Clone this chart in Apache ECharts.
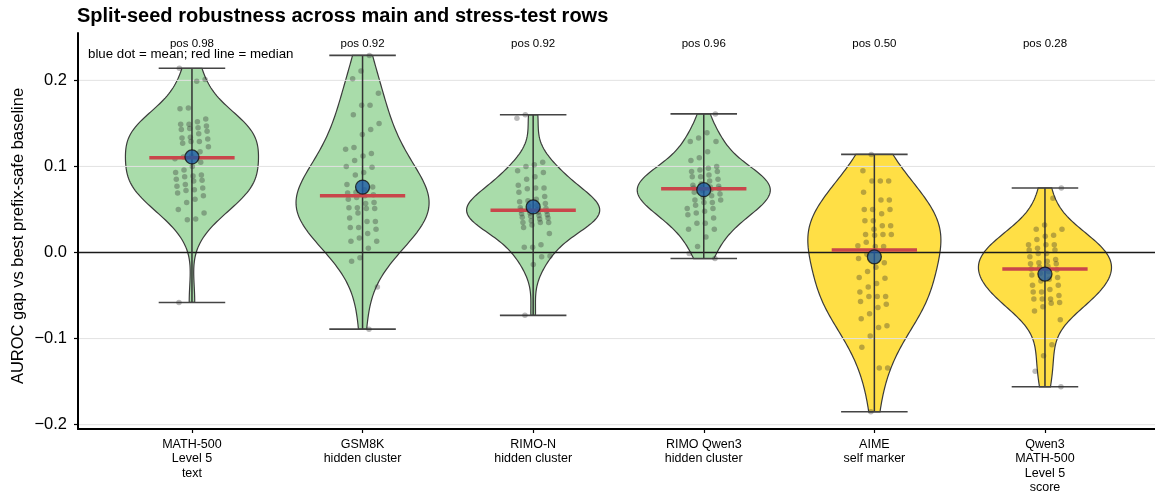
<!DOCTYPE html>
<html>
<head>
<meta charset="utf-8">
<title>Split-seed robustness</title>
<script src="https://cdn.jsdelivr.net/npm/echarts@6/dist/echarts.min.js"></script>
<style>
  html, body { margin: 0; padding: 0; background: #ffffff; }
  #chart { width: 1155px; height: 495px; }
</style>
</head>
<body>
<div id="chart"></div>
<script>
// ---- data ---------------------------------------------------------------
const categories = [
  'MATH-500\nLevel 5\ntext',
  'GSM8K\nhidden cluster',
  'RIMO-N\nhidden cluster',
  'RIMO Qwen3\nhidden cluster',
  'AIME\nself marker',
  'Qwen3\nMATH-500\nLevel 5\nscore'
];
const rowKind = ['main', 'main', 'main', 'main', 'stress', 'stress'];
const positiveShare = [0.98, 0.92, 0.92, 0.96, 0.50, 0.28];
const seedMeans = [0.111, 0.076, 0.053, 0.073, -0.005, -0.025];
const seedMedians = [0.110, 0.066, 0.049, 0.074, 0.003, -0.019];
const yTicks = [-0.2, -0.1, 0.0, 0.1, 0.2];

// AUROC gap per split seed (50 seeds per row)
const math500Level5 = [
  0.214, 0.201, 0.199, 0.168, 0.167, 0.155, 0.152, 0.149, 0.149, 0.147,
  0.145, 0.144, 0.143, 0.141, 0.138, 0.134, 0.133, 0.132, 0.129, 0.129,
  0.127, 0.123, 0.117, 0.112, 0.111, 0.109, 0.105, 0.100, 0.096, 0.093,
  0.090, 0.089, 0.088, 0.085, 0.084, 0.083, 0.079, 0.077, 0.075, 0.073,
  0.072, 0.069, 0.066, 0.062, 0.058, 0.050, 0.046, 0.039, 0.038, -0.058
];
const gsm8kHidden = [
  0.229, 0.211, 0.202, 0.185, 0.171, 0.171, 0.160, 0.150, 0.143, 0.137,
  0.122, 0.120, 0.115, 0.112, 0.107, 0.100, 0.099, 0.093, 0.090, 0.079,
  0.076, 0.073, 0.070, 0.069, 0.067, 0.066, 0.064, 0.062, 0.058, 0.057,
  0.052, 0.052, 0.051, 0.051, 0.046, 0.040, 0.036, 0.036, 0.029, 0.029,
  0.027, 0.022, 0.017, 0.013, 0.013, 0.005, -0.006, -0.010, -0.040, -0.089
];
const rimoNHidden = [
  0.160, 0.156, 0.105, 0.102, 0.100, 0.095, 0.093, 0.088, 0.085, 0.078,
  0.075, 0.075, 0.074, 0.070, 0.065, 0.062, 0.060, 0.059, 0.057, 0.055,
  0.054, 0.052, 0.051, 0.050, 0.049, 0.049, 0.048, 0.047, 0.046, 0.045,
  0.044, 0.043, 0.042, 0.041, 0.040, 0.039, 0.037, 0.035, 0.035, 0.035,
  0.032, 0.029, 0.022, 0.009, 0.006, 0.006, -0.004, -0.005, -0.014, -0.073
];
const rimoQwen3Hidden = [
  0.161, 0.139, 0.133, 0.129, 0.129, 0.117, 0.110, 0.107, 0.100, 0.098,
  0.096, 0.094, 0.094, 0.090, 0.088, 0.088, 0.085, 0.083, 0.080, 0.078,
  0.077, 0.076, 0.075, 0.075, 0.074, 0.073, 0.072, 0.070, 0.068, 0.066,
  0.064, 0.061, 0.061, 0.058, 0.058, 0.055, 0.051, 0.051, 0.048, 0.046,
  0.044, 0.040, 0.034, 0.034, 0.027, 0.027, 0.018, 0.007, -0.001, -0.007
];
const aimeSelfMarker = [
  0.114, 0.095, 0.083, 0.083, 0.083, 0.070, 0.061, 0.061, 0.050, 0.050,
  0.050, 0.045, 0.037, 0.037, 0.031, 0.031, 0.027, 0.021, 0.021, 0.021,
  0.020, 0.012, 0.008, 0.007, 0.007, -0.002, -0.007, -0.012, -0.017, -0.022,
  -0.029, -0.030, -0.036, -0.040, -0.046, -0.051, -0.051, -0.051, -0.057, -0.060,
  -0.064, -0.071, -0.077, -0.085, -0.087, -0.097, -0.110, -0.134, -0.134, -0.185
];
const qwen3Math500Score = [
  0.075, 0.063, 0.032, 0.027, 0.027, 0.020, 0.019, 0.015, 0.009, 0.009,
  0.009, 0.005, 0.003, 0.003, -0.001, -0.001, -0.005, -0.008, -0.010, -0.012,
  -0.013, -0.013, -0.016, -0.017, -0.019, -0.020, -0.022, -0.024, -0.026, -0.029,
  -0.031, -0.033, -0.038, -0.038, -0.043, -0.046, -0.046, -0.050, -0.054, -0.054,
  -0.054, -0.058, -0.059, -0.063, -0.068, -0.078, -0.107, -0.120, -0.138, -0.156
];
const seedGaps = [math500Level5, gsm8kHidden, rimoNHidden, rimoQwen3Hidden, aimeSelfMarker, qwen3Math500Score];

// ---- layout & style -----------------------------------------------------
const FONT = "'Liberation Sans', Arial, Helvetica, sans-serif";
const X_MIN = -0.668, X_MAX = 5.645;
const Y_MIN = -0.205, Y_MAX = 0.255;
const VIOLIN_HALF = 0.39;     // half of the violin body width (category units)
const CAP_HALF = 0.195;       // whisker cap half width
const MEDIAN_HALF = 0.25;     // median bar half width
const BW_SCALE = 1.2;         // smoothing relative to Scott's rule
const FILL = { main: '#a9dcaa', stress: '#ffdf45' };

// Gaussian KDE, evaluated between the extremes of each row
function kdeProfile(values, nPts) {
  const n = values.length;
  const mu = values.reduce((a, b) => a + b, 0) / n;
  const sd = Math.sqrt(values.reduce((a, b) => a + (b - mu) * (b - mu), 0) / (n - 1));
  const bw = BW_SCALE * sd * Math.pow(n, -0.2);
  const lo = Math.min(...values), hi = Math.max(...values);
  const out = [];
  for (let k = 0; k < nPts; k++) {
    const y = lo + (hi - lo) * k / (nPts - 1);
    let d = 0;
    for (const v of values) { const z = (y - v) / bw; d += Math.exp(-0.5 * z * z); }
    out.push([y, d]);
  }
  const dmax = Math.max(...out.map(p => p[1]));
  return out.map(p => [p[0], p[1] / dmax]);
}
const profiles = seedGaps.map(v => kdeProfile(v, 120));
const extremes = seedGaps.map(v => [Math.min(...v), Math.max(...v)]);

// deterministic horizontal spread for the seed dots
function spread(i, k) {
  const f = (k * 0.7548776662 + i * 0.5698402910 + 0.13) % 1;
  return (f - 0.5) * 0.2;
}
const seedDots = [];
seedGaps.forEach((vals, i) => vals.forEach((v, k) => seedDots.push([i + spread(i, k), v])));

const catIdx = categories.map((_, i) => [i]);

const chart = echarts.init(document.getElementById('chart'), null, { renderer: 'canvas' });

chart.setOption({
  animation: false,
  backgroundColor: '#ffffff',
  title: {
    text: 'Split-seed robustness across main and stress-test rows',
    left: 77, top: 6, padding: 0,
    textStyle: { fontFamily: FONT, fontSize: 20, fontWeight: 'bold', color: '#000' }
  },
  grid: { left: 78, right: 0, top: 33, bottom: 65, containLabel: false },
  xAxis: {
    type: 'value', min: X_MIN, max: X_MAX,
    splitLine: { show: false },
    axisLine: { show: true, onZero: false, lineStyle: { color: '#000', width: 2 } },
    axisTick: { show: true, customValues: [0, 1, 2, 3, 4, 5], length: 4, lineStyle: { color: '#000', width: 1.2 } },
    axisLabel: {
      customValues: [0, 1, 2, 3, 4, 5],
      formatter: v => categories[Math.round(v)] || '',
      fontFamily: FONT, fontSize: 12.5, lineHeight: 14.5, color: '#000', margin: 8
    }
  },
  yAxis: {
    type: 'value', min: Y_MIN, max: Y_MAX,
    splitLine: { show: false },
    axisLine: { show: true, onZero: false, lineStyle: { color: '#000', width: 2 } },
    axisTick: { show: true, customValues: yTicks, length: 4, lineStyle: { color: '#000', width: 1.2 } },
    axisLabel: {
      customValues: yTicks,
      formatter: v => (v < -1e-9 ? '\u2212' + Math.abs(v).toFixed(1) : Math.abs(v).toFixed(1)),
      fontFamily: FONT, fontSize: 16.5, color: '#000', margin: 11
    }
  },
  graphic: [
    {
      type: 'text', x: 18, y: 236, rotation: Math.PI / 2,
      style: {
        text: 'AUROC gap vs best prefix-safe baseline',
        font: '16.5px ' + FONT, fill: '#000', align: 'center', verticalAlign: 'middle'
      }
    },
    {
      type: 'text', x: 88, y: 54,
      style: {
        text: 'blue dot = mean; red line = median',
        font: '13.3px ' + FONT, fill: '#000', align: 'left', verticalAlign: 'middle'
      },
      z: 100
    }
  ],
  series: [
    // violin bodies
    {
      type: 'custom', data: catIdx, z: 2, silent: true,
      renderItem(params, api) {
        const i = api.value(0);
        const prof = profiles[i];
        const right = prof.map(([y, w]) => api.coord([i + w * VIOLIN_HALF, y]));
        const left = prof.slice().reverse().map(([y, w]) => api.coord([i - w * VIOLIN_HALF, y]));
        return {
          type: 'polygon',
          shape: { points: right.concat(left) },
          style: { fill: FILL[rowKind[i]], stroke: '#3b3b3b', lineWidth: 1.2 }
        };
      }
    },
    // horizontal reference lines at the ticks, zero line in black
    {
      type: 'custom', data: yTicks.map(v => [v]), z: 3, silent: true,
      renderItem(params, api) {
        const v = api.value(0);
        const a = api.coord([X_MIN, v]);
        const b = api.coord([X_MAX, v]);
        const isZero = Math.abs(v) < 1e-9;
        return {
          type: 'line',
          shape: { x1: a[0] + 1, y1: a[1], x2: b[0], y2: b[1] },
          style: { stroke: isZero ? '#1a1a1a' : '#e2e2e2', lineWidth: isZero ? 1.6 : 1 }
        };
      }
    },
    // min-max whisker with caps
    {
      type: 'custom', data: catIdx, z: 4, silent: true,
      renderItem(params, api) {
        const i = api.value(0);
        const [lo, hi] = extremes[i];
        const top = api.coord([i, hi]), bot = api.coord([i, lo]);
        const tl = api.coord([i - CAP_HALF, hi]), tr = api.coord([i + CAP_HALF, hi]);
        const bl = api.coord([i - CAP_HALF, lo]), br = api.coord([i + CAP_HALF, lo]);
        const st = { stroke: '#333333', lineWidth: 1.5 };
        return {
          type: 'group',
          children: [
            { type: 'line', shape: { x1: top[0], y1: top[1], x2: bot[0], y2: bot[1] }, style: st },
            { type: 'line', shape: { x1: tl[0], y1: tl[1], x2: tr[0], y2: tr[1] }, style: { stroke: '#444444', lineWidth: 1.6 } },
            { type: 'line', shape: { x1: bl[0], y1: bl[1], x2: br[0], y2: br[1] }, style: { stroke: '#444444', lineWidth: 1.6 } }
          ]
        };
      }
    },
    // individual split seeds
    {
      type: 'scatter', data: seedDots, z: 5, silent: true,
      symbol: 'circle', symbolSize: 5.5,
      itemStyle: { color: '#2b2b2b', opacity: 0.33 }
    },
    // median bars
    {
      type: 'custom', data: seedMedians.map((m, i) => [i, m]), z: 6, silent: true,
      renderItem(params, api) {
        const i = api.value(0), m = api.value(1);
        const a = api.coord([i - MEDIAN_HALF, m]), b = api.coord([i + MEDIAN_HALF, m]);
        return {
          type: 'line',
          shape: { x1: a[0], y1: a[1], x2: b[0], y2: b[1] },
          style: { stroke: '#c9464b', lineWidth: 3.5 }
        };
      }
    },
    // means
    {
      type: 'scatter', data: seedMeans.map((m, i) => [i, m]), z: 7, silent: true,
      symbol: 'circle', symbolSize: 14,
      itemStyle: { color: '#1c5aa5', borderColor: '#111111', borderWidth: 1.3 }
    },
    // share of positive seeds above each row
    {
      type: 'custom', data: positiveShare.map((p, i) => [i, p]), z: 8, silent: true,
      renderItem(params, api) {
        const i = api.value(0), p = api.value(1);
        const c = api.coord([i, Y_MAX]);
        return {
          type: 'text',
          x: c[0], y: c[1] + 11,
          style: {
            text: 'pos ' + p.toFixed(2),
            font: '11.5px ' + FONT, fill: '#000', align: 'center', verticalAlign: 'middle'
          }
        };
      }
    }
  ]
});
</script>
</body>
</html>
